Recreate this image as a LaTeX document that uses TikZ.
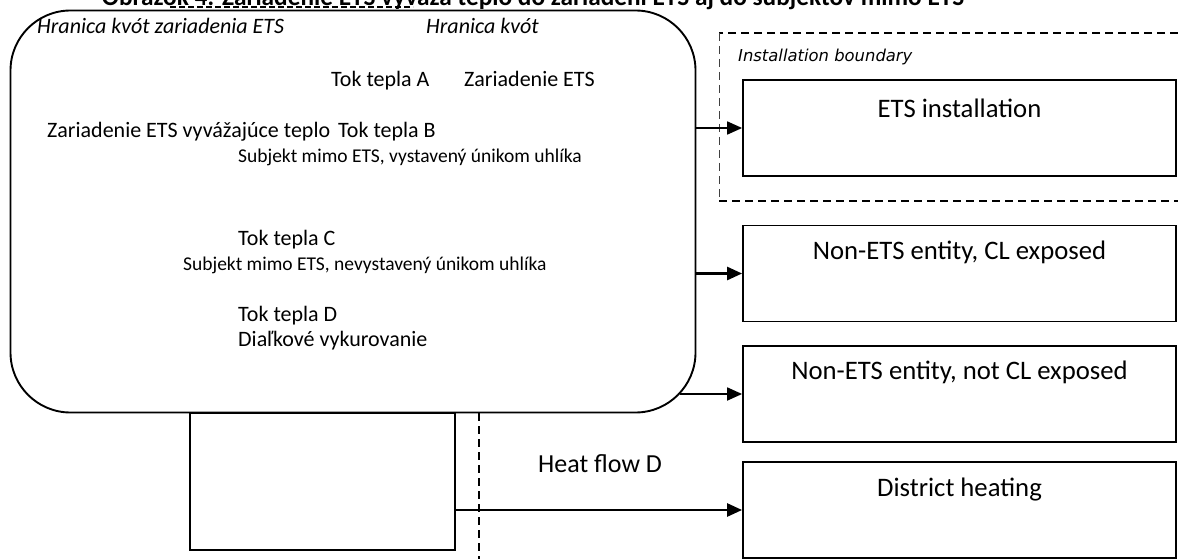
\documentclass[tikz,border=0pt]{standalone}
\usepackage{fontspec}
\setmainfont{Carlito}
\newfontfamily\djv{DejaVu Sans}
\usetikzlibrary{arrows.meta}
\tikzset{
  bigbox/.style={draw, line width=1.9pt, rounded corners=60pt, minimum width=685pt, minimum height=402pt, inner sep=0pt},
  plainbox/.style={draw, line width=1.8pt, inner sep=0pt},
  ibox/.style={draw, line width=1.8pt, minimum width=433pt, minimum height=96pt, inner sep=0pt},
  boxtext/.style={font=\fontsize{26.7}{30}\selectfont, anchor=center},
  intext/.style={font=\fontsize{22}{25}\selectfont, anchor=base west, inner sep=0pt},
  smtext/.style={font=\fontsize{19.5}{22}\selectfont, anchor=base west, inner sep=0pt},
  itext/.style={font=\itshape\fontsize{22}{25}\selectfont, anchor=base west, inner sep=0pt},
  arr/.style={line width=1.8pt, -{Triangle[length=15pt,width=13pt]}},
  arrthick/.style={line width=2.6pt, -{Triangle[length=15pt,width=13pt]}},
  bnd/.style={dash pattern=on 8pt off 5pt, line width=1.9pt},
  bndthin/.style={dash pattern=on 8pt off 5pt, line width=0.9pt, black!75},
}
\begin{document}
\begin{tikzpicture}[x=1pt,y=-1pt]
\useasboundingbox (0,0) rectangle (1178,559);
% title (clipped at the top edge, as in the reference)
\node[font=\bfseries\fontsize{25.3}{28}\selectfont, anchor=base, inner sep=0pt] (title) at (533,5.5) {Obrázok 4: Zariadenie ETS vyváža teplo do zariadení ETS aj do subjektov mimo ETS};
\draw[line width=2pt, dash pattern=on 6pt off 3pt] (170,7.5) -- (413,7.5);
% big rounded box
\node[bigbox] (main) at (353,211.5) {};
\node[plainbox, minimum width=265pt, minimum height=137pt] (lower) at (322.5,481.5) {};
% texts inside the rounded box
\node[itext] (h1) at (37,34) {Hranica kvót zariadenia ETS};
\node[itext] (h2) at (426,34) {Hranica kvót};
\node[intext] (ta) at (331,87) {Tok tepla A};
\node[intext] (ze) at (464,87) {Zariadenie ETS};
\node[intext] (zv) at (47,138) {Zariadenie ETS vyvážajúce teplo};
\node[intext] (tb) at (338,138) {Tok tepla B};
\node[smtext] (s1) at (238,163) {Subjekt mimo ETS, vystavený únikom uhlíka};
\node[intext] (tc) at (238,245) {Tok tepla C};
\node[smtext] (s2) at (183,270) {Subjekt mimo ETS, nevystavený únikom uhlíka};
\node[intext] (td) at (238,321) {Tok tepla D};
\node[intext] (dv) at (238,346) {Diaľkové vykurovanie};
% installation boundary
\draw[bnd] (1178,33) -- (719,33);
\draw[bndthin] (719,33) -- (719,201);
\draw[bnd] (719,201) -- (1178,201);
\node[font=\djv\itshape\fontsize{16.4}{19}\selectfont, anchor=base west, inner sep=0pt] (ib) at (738,62) {Installation boundary};
% right boxes
\node[ibox] (ets) at (959.5,128) {};
\node[boxtext] (etst) at ([yshift=-29pt]ets.north) {ETS installation};
\node[ibox] (cl) at (959.5,273.5) {};
\node[boxtext] (clt) at ([yshift=-28pt]cl.north) {Non-ETS entity, CL exposed};
\node[ibox] (ncl) at (959.5,394) {};
\node[boxtext] (nclt) at ([yshift=-27pt]ncl.north) {Non-ETS entity, not CL exposed};
\node[ibox] (dh) at (959.5,510) {};
\node[boxtext] (dht) at ([yshift=-28pt]dh.north) {District heating};
% dashed vertical boundary
\draw[bnd] (479,413) -- (479,559);
% connectors
\coordinate (corner) at (680,394);
\draw[arr] (ets.west -| main.east) -- (ets.west);
\draw[arrthick] (cl.west -| main.east) -- (cl.west);
\draw[arr] (corner) -- (ncl.west);
\draw[arrthick] (dh.west -| lower.east) -- (dh.west);
\node[font=\fontsize{26}{29}\selectfont, anchor=base west, inner sep=0pt] (hf) at (538,472) {Heat flow D};
\end{tikzpicture}
\end{document}
